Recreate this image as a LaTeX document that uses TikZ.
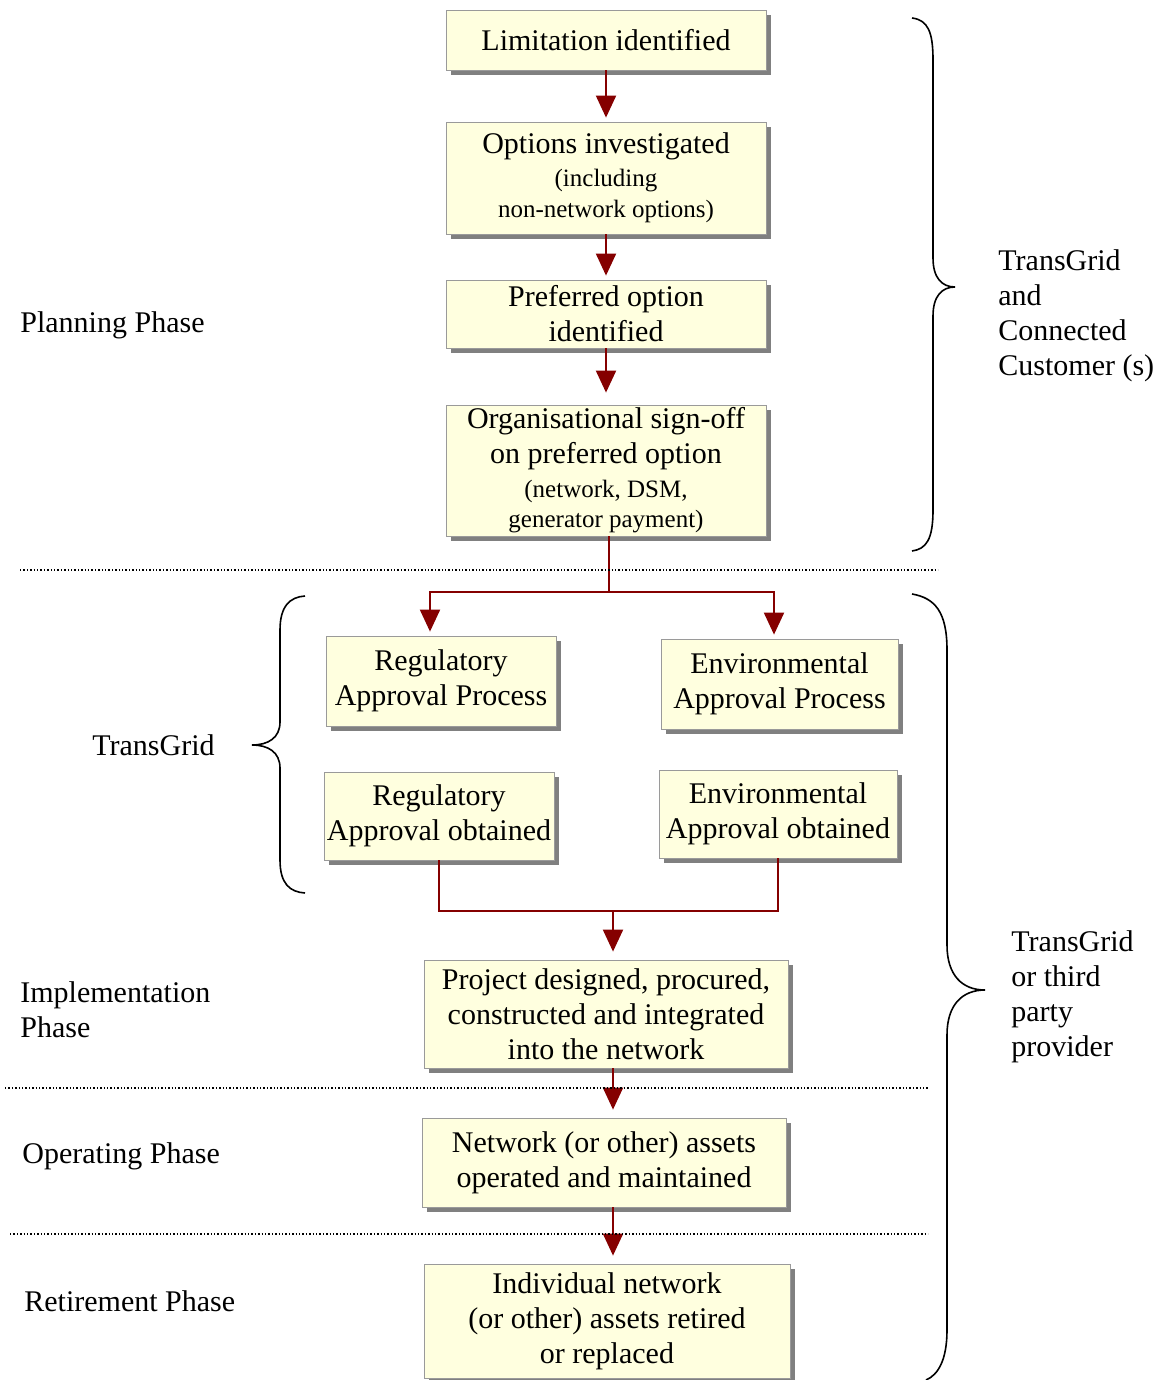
\documentclass[tikz,border=0pt]{standalone}
\usepackage{fontspec}
\setmainfont{Liberation Serif}
\usetikzlibrary{arrows.meta, shadows, positioning}
\definecolor{BoxFill}{HTML}{FFFFDF}
\definecolor{BoxEdge}{HTML}{9A9A9A}
\definecolor{ShadowGray}{HTML}{808080}
\definecolor{FlowRed}{HTML}{850000}
\newcommand{\subtxt}{\fontsize{12.5}{15}\selectfont}

\begin{document}
\begin{tikzpicture}[x=0.5pt, y=-0.5pt,
    stagebox/.style={draw=BoxEdge, fill=BoxFill, inner sep=0pt, align=center,
        font=\fontsize{15}{17.5}\selectfont,
        drop shadow={shadow xshift=2.5pt, shadow yshift=-2.5pt, fill=ShadowGray, opacity=1}},
    flow/.style={FlowRed, line width=1pt},
    flowarrow/.style={flow, -{Triangle[width=10pt,length=11pt]}, shorten >=2pt},
    phasetext/.style={anchor=west, align=left, inner sep=0pt, font=\fontsize{15}{17.5}\selectfont},
    phaseline/.style={densely dotted, line width=0.7pt},
    bracepath/.style={line width=0.8pt}]
    \useasboundingbox (0,0) rectangle (1163,1380);

    % Planning boxes
    \node[stagebox, minimum width=160pt, minimum height=30pt] (limit) at (606,40) {Limitation identified};
    \node[stagebox, minimum width=160pt, minimum height=56pt] (options) at (606,178)
        {Options investigated\\[-1pt]\subtxt (including\\[-2pt]\subtxt non-network options)};
    \node[stagebox, minimum width=160pt, minimum height=34pt] (prefer) at (606,314) {Preferred option\\identified};
    \node[stagebox, minimum width=160pt, minimum height=65.5pt] (signoff) at (606,470.5)
        {Organisational sign-off\\on preferred option\\[-0.5pt]\subtxt (network, DSM,\\[-2.5pt]\subtxt generator payment)};

    % Approval boxes
    \node[stagebox, minimum width=115pt, minimum height=45pt] (regproc) at (441,681) {Regulatory\\Approval Process};
    \node[stagebox, minimum width=118.5pt, minimum height=45pt] (envproc) at (779.5,684) {Environmental\\Approval Process};
    \node[stagebox, minimum width=115pt, minimum height=44pt] (regdone) at (439,816) {Regulatory\\Approval obtained};
    \node[stagebox, minimum width=119pt, minimum height=44pt] (envdone) at (778,814) {Environmental\\Approval obtained};

    % Implementation, operating and retirement boxes
    \node[stagebox, minimum width=182pt, minimum height=54pt] (project) at (606,1014)
        {Project designed, procured,\\constructed and integrated\\into the network};
    \node[stagebox, minimum width=182pt, minimum height=44.5pt] (operate) at (604,1162.5)
        {Network (or other) assets\\operated and maintained};
    \node[stagebox, minimum width=183pt, minimum height=57pt] (retire) at (607,1321)
        {Individual network\\(or other) assets retired\\or replaced};

    % Flow
    \draw[flowarrow] (limit) -- (options);
    \draw[flowarrow] (options) -- (prefer);
    \draw[flowarrow, shorten >=6pt] (prefer) -- (signoff);
    \coordinate (fork) at (609,592);
    \draw[flow] (signoff.south -| fork) -- (fork);
    \draw[flowarrow] (fork) -| ([xshift=-5.5pt]regproc.north);
    \draw[flowarrow] (fork) -| ([xshift=-2.75pt]envproc.north);
    \coordinate (join) at (613,911);
    \draw[flow] (regdone.south) |- (join);
    \draw[flow] (envdone.south) |- (join);
    \draw[flowarrow, shorten >=4pt] (join) -- (project.north -| join);
    \draw[flowarrow, shorten >=4pt] (project.south -| join) -- (operate.north -| join);
    \draw[flowarrow, shorten >=4pt] (operate.south -| join) -- (retire.north -| join);

    % Phase separators
    \draw[phaseline] (20,570) -- (938,570);
    \draw[phaseline] (5,1088) -- (928,1088);
    \draw[phaseline] (10,1234) -- (928,1234);

    % Phase names
    \node[phasetext] (planning) at (20,325) {Planning Phase};
    \node[phasetext] (tgleft) at (92,745) {TransGrid};
    \node[phasetext] (implement) at (20,1010) {Implementation\\Phase};
    \node[phasetext] (operating) at (22,1156) {Operating Phase};
    \node[phasetext] (retirement) at (24,1301) {Retirement Phase};

    % Responsibility braces
    \draw[bracepath] (912,18) .. controls (928,20) and (933,32) .. (933,60) -- (933,258)
        .. controls (933,278) and (942,287) .. (955,287)
        .. controls (942,287) and (933,296) .. (933,316) -- (933,510)
        .. controls (933,540) and (926,549) .. (912,551);
    \node[phasetext] (tgcust) at (998,316) {TransGrid\\and\\Connected\\Customer (s)};

    \draw[bracepath] (305,596) .. controls (290,597) and (280,606) .. (280,630) -- (280,722)
        .. controls (280,738) and (268,745) .. (252,745)
        .. controls (268,745) and (280,752) .. (280,768) -- (280,860)
        .. controls (280,884) and (290,892) .. (305,893);
    \draw[bracepath] (912,594) .. controls (935,598) and (947,612) .. (947,650) -- (947,945)
        .. controls (947,975) and (962,990) .. (985,990)
        .. controls (962,990) and (947,1005) .. (947,1035) -- (947,1330)
        .. controls (947,1360) and (938,1375) .. (926,1380);
    \node[phasetext] (tgthird) at (1011,996.5) {TransGrid\\or third\\party\\provider};
\end{tikzpicture}
\end{document}
